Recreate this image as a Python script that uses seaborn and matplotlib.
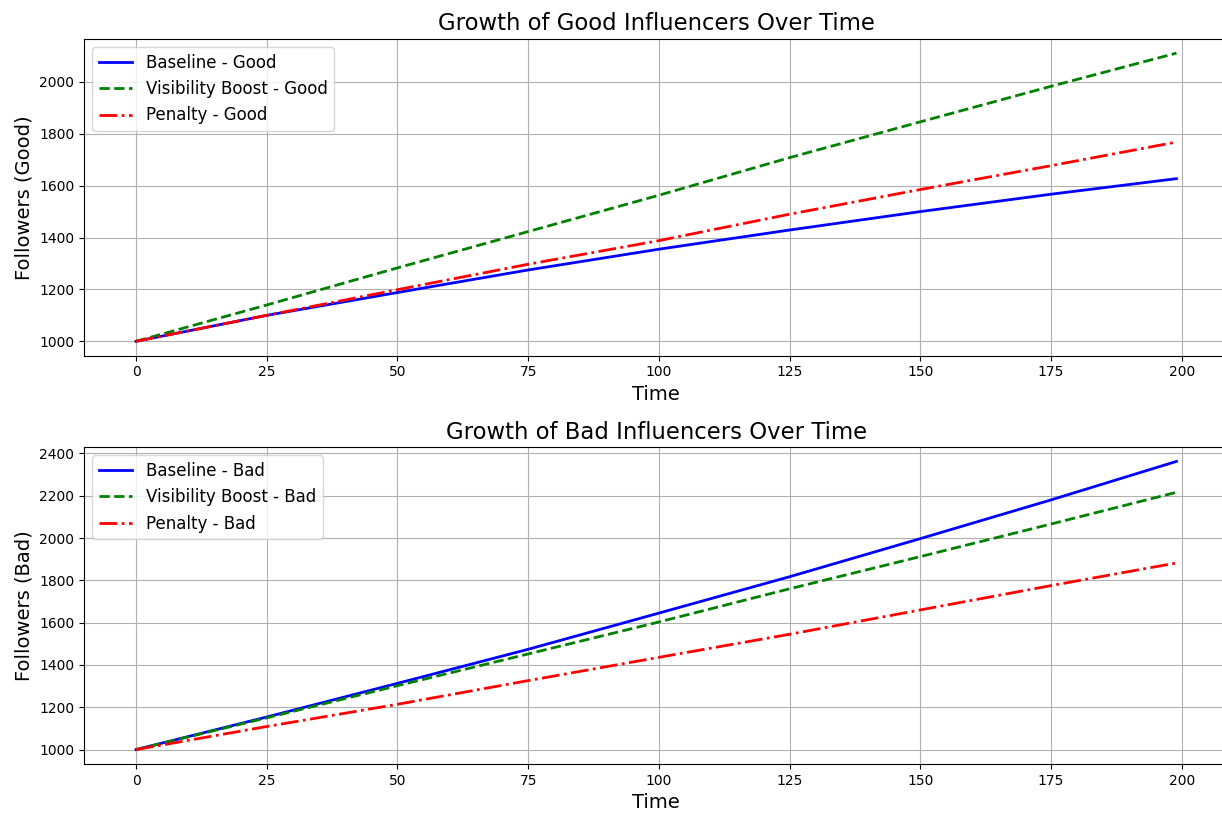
import matplotlib
matplotlib.use("Agg")
import matplotlib.pyplot as plt
import seaborn as sns

# Time steps at which follower counts were recorded
time = [0, 25, 50, 75, 100, 125, 150, 175, 199]

# Good influencers
baseline_good = [1000, 1100, 1188, 1275, 1355, 1429, 1500, 1567, 1627]
boost_good = [1000, 1140, 1283, 1423, 1563, 1708, 1846, 1983, 2111]
penalty_good = [1000, 1100, 1199, 1297, 1388, 1490, 1585, 1677, 1768]

# Bad influencers
baseline_bad = [1000, 1154, 1313, 1474, 1645, 1817, 1997, 2180, 2362]
boost_bad = [1000, 1150, 1302, 1452, 1603, 1760, 1912, 2066, 2216]
penalty_bad = [1000, 1109, 1214, 1326, 1436, 1545, 1660, 1775, 1882]

scenarios = ["Baseline", "Visibility Boost", "Penalty"]
colors = ["blue", "green", "red"]
styles = ["-", "--", "-."]

W, H = 1222, 814
fig = plt.figure(figsize=(W / 100, H / 100), dpi=100)
left, right = 84, 1228.5
ax1 = fig.add_axes([left / W, 1 - 355.7 / H, (right - left) / W, (355.7 - 38.7) / H])
ax2 = fig.add_axes([left / W, 1 - 764 / H, (right - left) / W, (764 - 447) / H])

panels = [
    (ax1, "Good", [baseline_good, boost_good, penalty_good]),
    (ax2, "Bad", [baseline_bad, boost_bad, penalty_bad]),
]

for ax, kind, series in panels:
    for name, vals, c, ls in zip(scenarios, series, colors, styles):
        sns.lineplot(x=time, y=vals, ax=ax, color=c, linestyle=ls,
                     linewidth=2, label=f"{name} - {kind}")
    ax.set_title(f"Growth of {kind} Influencers Over Time", fontsize=16.4)
    ax.set_xlabel("Time", fontsize=14)
    ax.set_ylabel(f"Followers ({kind})", fontsize=14)
    ax.grid(True)
    ax.legend(loc="upper left", fontsize=12)

fig.savefig("out.png", dpi=100)
